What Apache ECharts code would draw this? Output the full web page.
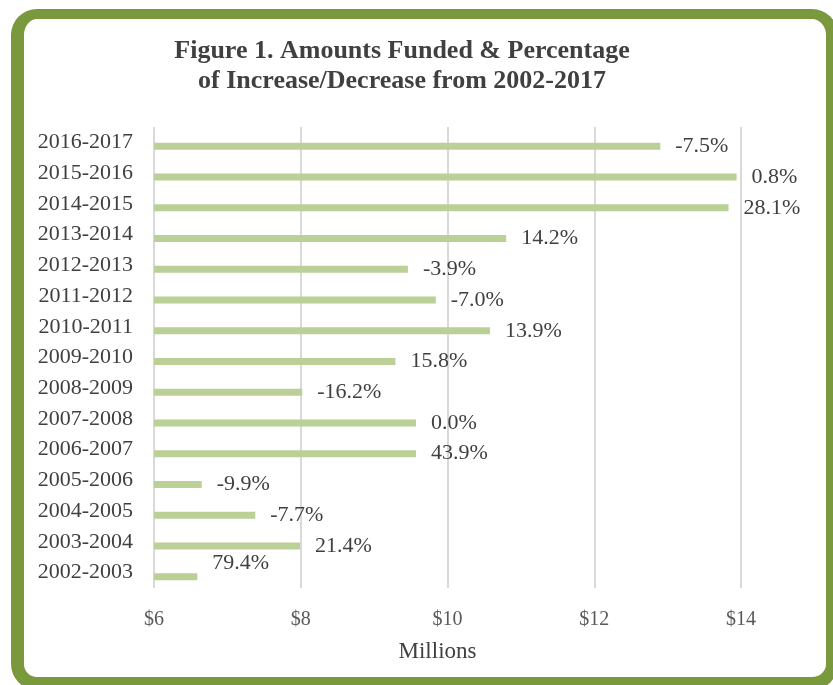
<!DOCTYPE html>
<html>
<head>
<meta charset="utf-8">
<title>Figure 1</title>
<script src="https://cdn.jsdelivr.net/npm/echarts@6/dist/echarts.min.js"></script>
<style>
  html, body { margin: 0; padding: 0; background: #fff; overflow: hidden; }
  #frame {
    position: absolute; left: 11px; top: 9px; width: 827px; height: 681px;
    box-sizing: border-box;
    border-style: solid; border-color: #7a983c;
    border-width: 10px 12px 13px 13px;
    border-radius: 26px;
  }
  #main { position: absolute; left: 0; top: 0; width: 833px; height: 685px; }
</style>
</head>
<body>
<div id="frame"></div>
<div id="main"></div>
<script>
// periods, bottom to top
const periods = [
  "2002-2003", "2003-2004", "2004-2005", "2005-2006", "2006-2007",
  "2007-2008", "2008-2009", "2009-2010", "2010-2011", "2011-2012",
  "2012-2013", "2013-2014", "2014-2015", "2015-2016", "2016-2017"
];
// amounts funded, millions of dollars
const amounts = [6.59, 7.99, 7.38, 6.65, 9.57, 9.57, 8.02, 9.29, 10.58, 9.84, 9.46, 10.80, 13.83, 13.94, 12.90];
// change vs previous period
const changeLabels = [
  "79.4%", "21.4%", "-7.7%", "-9.9%", "43.9%", "0.0%", "-16.2%", "15.8%",
  "13.9%", "-7.0%", "-3.9%", "14.2%", "28.1%", "0.8%", "-7.5%"
];
const xMin = 6, xMax = 14, xStep = 2;

const serif = '"Liberation Serif", "DejaVu Serif", serif';
const chart = echarts.init(document.getElementById("main"));

const barData = amounts.map(function (v, i) {
  const item = { value: v, label: { formatter: changeLabels[i] } };
  // first label sits above its bar in the original
  if (i === 0) item.label.offset = [0, -13];
  return item;
});

chart.setOption({
  animation: false,
  title: {
    text: "Figure 1. Amounts Funded & Percentage\nof Increase/Decrease from 2002-2017",
    left: 397, top: 31, textAlign: "center",
    textStyle: { fontFamily: serif, fontWeight: "bold", fontSize: 26, color: "#404040", lineHeight: 30 }
  },
  // grid 0: gridlines, tick labels, category labels; grid 1: the bars (sit a bit lower in the original)
  grid: [
    { left: 154, right: 92, top: 127, bottom: 97 },
    { left: 154, right: 92, top: 131, bottom: 93 }
  ],
  xAxis: [{
    type: "value", gridIndex: 0, min: xMin, max: xMax, interval: xStep,
    name: "Millions", nameLocation: "middle", nameGap: 52,
    nameTextStyle: { fontFamily: serif, fontSize: 23, color: "#404040", padding: [0, 20, 0, 0] },
    axisLine: { show: false }, axisTick: { show: false },
    axisLabel: { formatter: function (v) { return "$" + v; }, margin: 22, fontFamily: serif, fontSize: 20, color: "#595959" },
    splitLine: { show: true, lineStyle: { color: "#d9d9d9", width: 2 } }
  }, {
    type: "value", gridIndex: 1, min: xMin, max: xMax, interval: xStep, show: false
  }],
  yAxis: [{
    type: "category", gridIndex: 0, data: periods,
    axisLine: { show: false }, axisTick: { show: false },
    axisLabel: { margin: 21, fontFamily: serif, fontSize: 22, color: "#404040" }
  }, {
    type: "category", gridIndex: 1, data: periods, show: false
  }],
  series: [{
    type: "bar", xAxisIndex: 1, yAxisIndex: 1, data: barData, barWidth: 7,
    itemStyle: { color: "#bad096" },
    label: { show: true, position: "right", distance: 15, fontFamily: serif, fontSize: 22, color: "#404040" }
  }]
});
</script>
</body>
</html>
